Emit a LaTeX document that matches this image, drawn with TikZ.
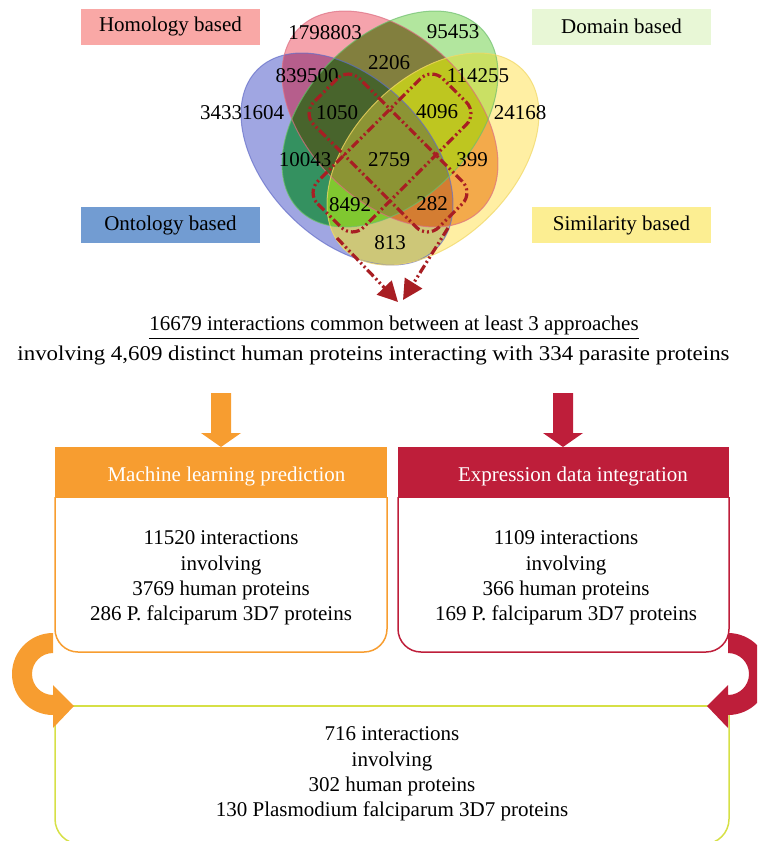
\documentclass[tikz,border=0pt]{standalone}
\usepackage{fontspec}
\usepackage{graphicx}
\setmainfont{Liberation Serif}
\usetikzlibrary{arrows.meta}
\definecolor{cA}{RGB}{160,166,226}
\definecolor{cB}{RGB}{245,163,172}
\definecolor{cC}{RGB}{178,230,158}
\definecolor{cD}{RGB}{255,239,163}
\definecolor{cAB}{RGB}{182,94,140}
\definecolor{cBC}{RGB}{130,127,62}
\definecolor{cCD}{RGB}{202,224,100}
\definecolor{cAC}{RGB}{52,145,96}
\definecolor{cBD}{RGB}{243,170,75}
\definecolor{cAD}{RGB}{205,199,120}
\definecolor{cABC}{RGB}{72,100,44}
\definecolor{cBCD}{RGB}{190,198,32}
\definecolor{cACD}{RGB}{128,200,48}
\definecolor{cABD}{RGB}{212,125,50}
\definecolor{cABCD}{RGB}{140,148,52}
\definecolor{lA}{RGB}{100,110,200}
\definecolor{lB}{RGB}{220,110,130}
\definecolor{lC}{RGB}{110,190,110}
\definecolor{lD}{RGB}{240,215,100}
\definecolor{lHom}{RGB}{249,168,166}
\definecolor{lDom}{RGB}{232,247,214}
\definecolor{lOnt}{RGB}{114,156,210}
\definecolor{lSim}{RGB}{252,238,146}
\definecolor{cOr}{RGB}{247,157,48}
\definecolor{cRd}{RGB}{190,30,58}
\definecolor{cYg}{RGB}{214,224,70}
\definecolor{cDr}{RGB}{168,30,35}
\newcommand\vennA[1]{\path[rotate around={-45:(347,159)},#1] (347,159) ellipse [x radius=126.5, y radius=80.4];}
\newcommand\vennB[1]{\path[rotate around={-45:(390,119)},#1] (390,119) ellipse [x radius=128.5, y radius=82.5];}
\newcommand\vennC[1]{\path[rotate around={45:(390,119)},#1] (390,119) ellipse [x radius=128.5, y radius=82.5];}
\newcommand\vennD[1]{\path[rotate around={45:(433,159)},#1] (433,159) ellipse [x radius=126.5, y radius=80.4];}
\tikzset{
  lab/.style={inner sep=0pt, minimum width=89.5pt, minimum height=18pt},
  num/.style={inner sep=0pt},
  dashdd/.style={draw=cDr, line width=1.6pt, dash pattern=on 4.5pt off 1.5pt on 1pt off 1.5pt on 1pt off 1.5pt},
  darr/.style={dashdd, -{Triangle[length=10pt,width=10pt]}},
  body/.style={inner sep=0pt, align=center},
  boxline/.style={line width=0.75pt, rounded corners=11.5pt},
}
\begin{document}
\begin{tikzpicture}[x=0.5pt,y=-0.5pt, font=\fontsize{10.5}{12.65}\selectfont]
\useasboundingbox (0,0) rectangle (757,841);
\clip (0,0) rectangle (757,841);
% labels
\node[lab, fill=lHom] (hom) at (170.5,26.5) {Homology based};
\node[lab, fill=lDom] (dom) at (621.5,26.5) {Domain based};
\node[lab, fill=lOnt] (ont) at (170.5,225) {Ontology based};
\node[lab, fill=lSim] (sim) at (621.5,225) {Similarity based};
% venn regions
\vennA{fill=cA}
\vennB{fill=cB}
\vennC{fill=cC}
\vennD{fill=cD}
\begin{scope}\vennA{clip}\vennB{fill=cAB}\end{scope}
\begin{scope}\vennB{clip}\vennC{fill=cBC}\end{scope}
\begin{scope}\vennC{clip}\vennD{fill=cCD}\end{scope}
\begin{scope}\vennA{clip}\vennC{fill=cAC}\end{scope}
\begin{scope}\vennB{clip}\vennD{fill=cBD}\end{scope}
\begin{scope}\vennA{clip}\vennD{fill=cAD}\end{scope}
\begin{scope}\vennA{clip}\vennB{clip}\vennC{fill=cABC}\end{scope}
\begin{scope}\vennB{clip}\vennC{clip}\vennD{fill=cBCD}\end{scope}
\begin{scope}\vennA{clip}\vennC{clip}\vennD{fill=cACD}\end{scope}
\begin{scope}\vennA{clip}\vennB{clip}\vennD{fill=cABD}\end{scope}
\begin{scope}\vennA{clip}\vennB{clip}\vennC{clip}\vennD{fill=cABCD}\end{scope}
\vennA{draw=lA, line width=0.5pt, draw opacity=0.7}
\vennB{draw=lB, line width=0.5pt, draw opacity=0.7}
\vennC{draw=lC, line width=0.5pt, draw opacity=0.7}
\vennD{draw=lD, line width=0.5pt, draw opacity=0.7}
% numbers
\node[num] (n1) at (325,33) {1798803};
\node[num] (n2) at (453,32) {95453};
\node[num] (n3) at (389,63) {2206};
\node[num] (n4) at (307,76) {839500};
\node[num] (n5) at (478,76) {114255};
\node[num] (n6) at (242,113) {34331604};
\node[num] (n7) at (337,113) {1050};
\node[num] (n8) at (437,112) {4096};
\node[num] (n9) at (520,113) {24168};
\node[num] (n10) at (305,160) {10043};
\node[num] (n11) at (389,160) {2759};
\node[num] (n12) at (472,160) {399};
\node[num] (n13) at (350,205) {8492};
\node[num] (n14) at (432,204) {282};
\node[num] (n15) at (390,243) {813};
% dashed selections
\draw[dashdd, rotate around={-45:(388,153)}, rounded corners=8pt] (299.5,120.5) rectangle (476.5,185.5);
\draw[dashdd, rotate around={45:(392,153)}, rounded corners=8pt] (303.5,120.5) rectangle (480.5,185.5);
\coordinate (la0) at (337,238);
\coordinate (lat) at (398,302);
\coordinate (ra0) at (448,228);
\coordinate (rat) at (403,300);
\draw[darr] (la0) -- (lat);
\draw[darr] (ra0) -- (rat);
% summary text
\node[inner xsep=0pt, inner ysep=1.6pt] (t1) at (394,325) {16679 interactions common between at least 3 approaches};
\draw[line width=0.6pt] (t1.south west) -- (t1.south east);
\node[inner sep=0pt] (t2) at (373.5,355.5) {\scalebox{1.09}[1]{involving 4,609 distinct human proteins interacting with 334 parasite proteins}};
% block arrows
\fill[cOr] (211,393) -- (231,393) -- (231,433) -- (241,433) -- (221,447) -- (201,433) -- (211,433) -- cycle;
\fill[cRd] (553,393) -- (573,393) -- (573,433) -- (583,433) -- (563,447) -- (543,433) -- (553,433) -- cycle;
% boxes
\fill[cOr] (55,447) rectangle (387,498);
\draw[cOr, boxline] (55,497) -- (55,652) -- (387,652) -- (387,497);
\node[text=white, inner sep=0pt] (mlh) at (226.5,476) {Machine learning prediction};
\node[body] (mlb) at (221,578) {11520 interactions\\involving\\3769 human proteins\\286 P. falciparum 3D7 proteins};
\fill[cRd] (398,447) rectangle (729,498);
\draw[cRd, boxline] (398,497) -- (398,652) -- (729,652) -- (729,497);
\node[text=white, inner sep=0pt] (edh) at (573,476) {Expression data integration};
\node[body] (edb) at (566,578) {1109 interactions\\involving\\366 human proteins\\169 P. falciparum 3D7 proteins};
% bottom box
\draw[cYg, line width=0.75pt] (55,706) -- (729,706);
\draw[cYg, line width=0.75pt, rounded corners=12.5pt] (55,706) -- (55,844) -- (729,844) -- (729,706);
\node[body] (fin) at (392,774) {716 interactions\\involving\\302 human proteins\\130 Plasmodium falciparum 3D7 proteins};
% curved arrows
\fill[cOr] (53,633) arc[start angle=-90, end angle=-270, radius=41] -- (53,728) -- (74,706) -- (53,685) -- (53,695) arc[start angle=90, end angle=270, radius=21] -- cycle;
\fill[cRd] (728,633) arc[start angle=-90, end angle=90, radius=41] -- (728,728) -- (707,706) -- (728,685) -- (728,695) arc[start angle=90, end angle=-90, radius=21] -- cycle;
\end{tikzpicture}
\end{document}
